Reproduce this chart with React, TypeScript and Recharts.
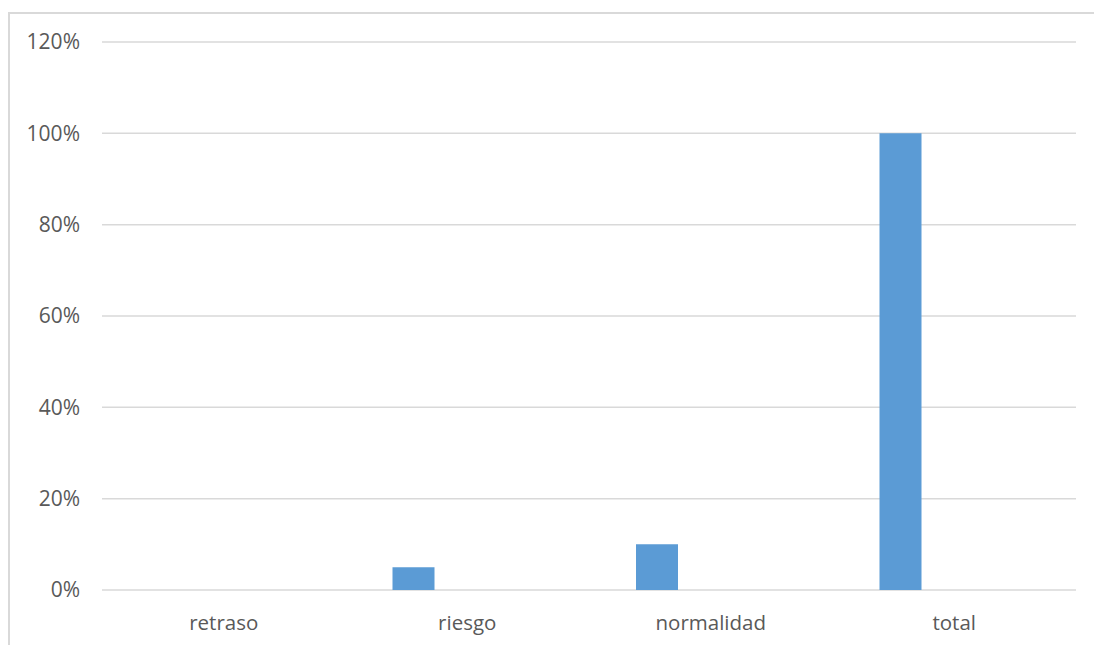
import { BarChart, Bar, XAxis, YAxis, CartesianGrid } from "recharts";

// categorías y valores (fracción, 1 = 100%)
const categorias = ["retraso", "riesgo", "normalidad", "total"];
const porcentajes = [0, 0.05, 0.1, 1];
// segunda serie vacía: reserva el hueco a la derecha de cada barra
const serieVacia = [null, null, null, null];
const ticksY = [0, 0.2, 0.4, 0.6, 0.8, 1, 1.2];

const datos = categorias.map((cat, i) => ({
  cat,
  valor: porcentajes[i],
  vacio: serieVacia[i],
}));

const fuente = "'Open Sans', 'Noto Sans', sans-serif";

export default function App() {
  return (
    <div style={{ position: "absolute", left: 0, top: 0, width: 1094, height: 645, background: "#fff", overflow: "hidden" }}>
      <div
        style={{
          position: "absolute",
          left: 8,
          top: 12,
          width: 1090,
          height: 640,
          borderTop: "2px solid #d9d9d9",
          borderLeft: "2px solid #d9d9d9",
        }}
      />
      <div style={{ position: "absolute", left: 0, top: 0 }}>
        <BarChart
          width={1094}
          height={645}
          data={datos}
          margin={{ top: 42, right: 18, bottom: 25, left: 0 }}
          barSize={42}
          barGap={66}
        >
          <CartesianGrid vertical={false} stroke="#d9d9d9" strokeWidth={1.5} />
          <XAxis
            dataKey="cat"
            height={30}
            axisLine={false}
            tickLine={false}
            tickSize={0}
            tickMargin={25}
            tick={{ fill: "#595959", fontSize: 20.5, fontFamily: fuente }}
          />
          <YAxis
            width={102}
            domain={[0, 1.2]}
            ticks={ticksY}
            axisLine={false}
            tickLine={false}
            tickSize={0}
            tickMargin={22}
            tickFormatter={(v: number) => `${Math.round(v * 100)}%`}
            tick={{ fill: "#595959", fontSize: 21, fontFamily: fuente }}
          />
          <Bar dataKey="valor" fill="#5b9bd5" isAnimationActive={false} />
          <Bar dataKey="vacio" fill="#ed7d31" isAnimationActive={false} />
        </BarChart>
      </div>
    </div>
  );
}
